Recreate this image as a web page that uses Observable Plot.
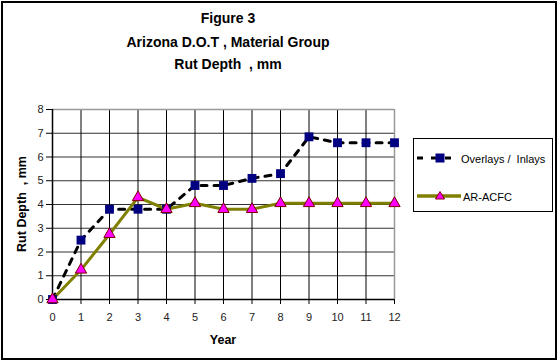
<!DOCTYPE html>
<html><head><meta charset="utf-8">
<script src="https://cdn.jsdelivr.net/npm/d3@7"></script>
<script src="https://cdn.jsdelivr.net/npm/@observablehq/plot@0.6"></script>
<style>
body{margin:0;background:#fff;}
#wrap{position:relative;width:559px;height:363px;font-family:"Liberation Sans",Arial,sans-serif;color:#000;overflow:hidden;}
#wrap svg{position:absolute;left:0;top:0;}
.abs{position:absolute;white-space:pre;}
.title{font-weight:bold;font-size:14px;line-height:14px;transform:translate(-50%,-50%);}
#border{position:absolute;left:1px;top:1px;width:556px;height:359px;border:2px solid #000;box-sizing:border-box;pointer-events:none;}
#legend{position:absolute;left:413px;top:138px;width:140px;height:74px;border:1px solid #000;box-sizing:border-box;background:#fff;}
.lg{position:absolute;font-size:11px;line-height:12px;white-space:pre;}
</style>
</head><body>
<div id="wrap"></div>
<script>
const years = [0,1,2,3,4,5,6,7,8,9,10,11,12];
const overlaysInlays = [0,2.5,3.8,3.8,3.8,4.8,4.8,5.1,5.3,6.85,6.6,6.6,6.6];
const arAcfc = [0,1.25,2.75,4.3,3.8,4.05,3.8,3.8,4.05,4.05,4.05,4.05,4.05];
const yTicks = [0,1,2,3,4,5,6,7,8];
const titleLines = ["Figure 3","Arizona D.O.T , Material Group","Rut Depth  , mm"];
const xLabel = "Year";
const yLabel = "Rut Depth  , mm";
const seriesNames = ["Overlays /  Inlays","AR-ACFC"];

const dataA = years.map((x,i)=>({x, y: overlaysInlays[i]}));
const dataB = years.map((x,i)=>({x, y: arAcfc[i]}));

const plot = Plot.plot({
  width: 559, height: 363,
  marginLeft: 52, marginRight: 165, marginTop: 109, marginBottom: 64,
  style: {fontFamily: '"Liberation Sans", Arial, sans-serif', fontSize: "11px", background: "transparent"},
  x: {domain: [0,12]},
  y: {domain: [0,8]},
  marks: [
    Plot.gridY(yTicks, {stroke: "#333", strokeOpacity: 1, strokeWidth: 1.2}),
    Plot.gridX(years, {stroke: "#000", strokeOpacity: 1}),
    Plot.ruleY([8], {stroke: "#999", strokeWidth: 1.5}),
    Plot.ruleX([12], {stroke: "#999", strokeWidth: 1.5}),
    Plot.ruleY([0], {stroke: "#000", strokeWidth: 1.5}),
    Plot.ruleX([0], {stroke: "#000", strokeWidth: 1.5}),
    Plot.axisY({ticks: yTicks, tickSize: 6, tickPadding: 3, label: null, fontSize: 11, fill: "#222"}),
    Plot.axisX({ticks: years, tickSize: 5, tickPadding: 9, tickFormat: d => String(d), label: null, fontSize: 11, fill: "#222"}),
    Plot.line(dataA, {x: "x", y: "y", stroke: "#000", strokeWidth: 3, strokeDasharray: "6,7"}),
    Plot.line(dataB, {x: "x", y: "y", stroke: "#808000", strokeWidth: 3}),
    Plot.dot(dataA, {x: "x", y: "y", symbol: "square", r: 5, fill: "#000080", stroke: "none"}),
    Plot.dot(dataB, {x: "x", y: "y", symbol: "triangle", r: 4.2, fill: "#FF00FF", stroke: "#800000", strokeWidth: 1})
  ]
});

const wrap = document.getElementById("wrap");
wrap.appendChild(plot);

const tys = [17.5, 42, 63.5];
titleLines.forEach((t,i)=>{
  const d = document.createElement("div");
  d.className = "abs title";
  d.style.left = "228px"; d.style.top = tys[i] + "px";
  d.textContent = t;
  wrap.appendChild(d);
});

const xl = document.createElement("div");
xl.className = "abs title";
xl.style.fontSize = "12.5px";
xl.style.left = "223px"; xl.style.top = "340px";
xl.textContent = xLabel;
wrap.appendChild(xl);

const yl = document.createElement("div");
yl.className = "abs";
yl.style.cssText += "font-weight:bold;font-size:12.5px;line-height:13px;left:22px;top:204px;transform:translate(-50%,-50%) rotate(-90deg);";
yl.textContent = yLabel;
wrap.appendChild(yl);

// legend
const lg = document.createElement("div");
lg.id = "legend";
const ns = "http://www.w3.org/2000/svg";
const sv = document.createElementNS(ns, "svg");
sv.setAttribute("width", 140); sv.setAttribute("height", 74);
sv.style.position = "absolute"; sv.style.left = "-1px"; sv.style.top = "-1px";
sv.innerHTML =
  '<line x1="4" x2="43" y1="20" y2="20" stroke="#000" stroke-width="3" stroke-dasharray="6,8"/>' +
  '<rect x="22.5" y="15.5" width="9" height="9" fill="#000080"/>' +
  '<line x1="4" x2="48" y1="58" y2="58" stroke="#808000" stroke-width="3.5"/>' +
  '<path d="M27,53.5 L31.5,61 L22.5,61 Z" fill="#FF00FF" stroke="#800000" stroke-width="1"/>';
lg.appendChild(sv);
[[seriesNames[0], 47, 14], [seriesNames[1], 49, 52]].forEach(([t,x,y])=>{
  const d = document.createElement("div");
  d.className = "lg";
  d.style.left = x + "px"; d.style.top = y + "px";
  d.textContent = t;
  lg.appendChild(d);
});
wrap.appendChild(lg);

const b = document.createElement("div");
b.id = "border";
wrap.appendChild(b);
</script>
</body></html>
